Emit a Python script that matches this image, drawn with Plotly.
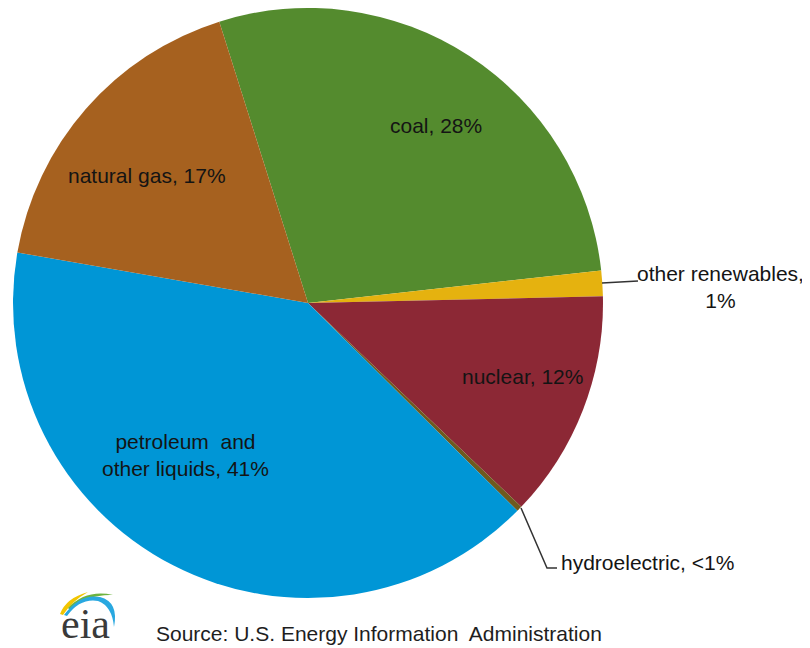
import plotly.graph_objects as go

# ---- data ----
categories = ["coal", "other renewables", "nuclear", "hydroelectric",
              "petroleum and other liquids", "natural gas"]
shares = [28.1, 1.4, 12.5, 0.3, 40.3, 17.4]
label_texts = ["coal, 28%", "other renewables,<br>1%", "nuclear, 12%",
               "hydroelectric, <1%", "petroleum&nbsp; and<br>other liquids, 41%",
               "natural gas, 17%"]
colors = ["#548B2E", "#E5B20F", "#8C2835", "#6E5A1F", "#0096D6", "#A6611F"]

# ---- layout helpers (window pixel positions -> paper) ----
OFF = 8  # default page body margin
W, H = 810 - OFF, 648 - OFF
def px(x):
    return (x - OFF) / W
def py(y):
    return 1 - (y - OFF) / H

# label anchor positions (window pixels), one per category
label_pos = [(436, 125), (720, 287), (522, 376), (647, 562), (185, 455), (147, 175)]

cx, cy, R = 308, 303, 295
fig = go.Figure(go.Pie(
    labels=categories,
    values=shares,
    sort=False,
    direction="clockwise",
    rotation=-17.5,
    marker=dict(colors=colors, line=dict(width=0)),
    textinfo="none",
    hoverinfo="label+percent",
    domain=dict(x=[px(cx - R), px(cx + R)], y=[py(cy + R), py(cy - R)]),
    showlegend=False,
))

annotations = []
for txt, (x, y) in zip(label_texts, label_pos):
    annotations.append(dict(
        x=px(x), y=py(y), xref="paper", yref="paper",
        text=txt, showarrow=False, xanchor="center", yanchor="middle",
        align="center",
        font=dict(family="Liberation Sans, Arial", size=21, color="#141414"),
    ))

annotations.append(dict(
    x=px(154), y=py(633), xref="paper", yref="paper",
    text="Source: U.S. Energy Information&nbsp; Administration",
    showarrow=False, xanchor="left", yanchor="middle",
    font=dict(family="Liberation Sans, Arial", size=21, color="#1e1e1e"),
))
annotations.append(dict(
    x=px(85), y=0, xref="paper", yref="paper",
    text="eia", showarrow=False, xanchor="center", yanchor="bottom",
    borderpad=0,
    font=dict(family="Liberation Serif, DejaVu Serif", size=42, color="#3a3a3a"),
))

LOGO_DY = -5
def path(points_cmds):
    out = []
    for cmd, pts in points_cmds:
        coords = " ".join(f"{px(a):.5f},{py(b + LOGO_DY):.5f}" for a, b in pts)
        out.append(f"{cmd} {coords}")
    return " ".join(out) + " Z"

def polyline(pts):
    return " ".join(("M " if i == 0 else "L ") + f"{px(a):.5f},{py(b):.5f}"
                    for i, (a, b) in enumerate(pts))

shapes = [
    # leader line: other renewables
    dict(type="path", xref="paper", yref="paper",
         path=polyline([(602, 283), (638, 281)]),
         line=dict(color="#333333", width=1.5)),
    # leader line: hydroelectric
    dict(type="path", xref="paper", yref="paper",
         path=polyline([(521, 508), (547, 568), (557, 568)]),
         line=dict(color="#333333", width=1.5)),
    # logo arcs
    dict(type="path", xref="paper", yref="paper", line=dict(width=0), fillcolor="#F2C500",
         path=path([("M", [(60, 619)]), ("Q", [(66, 603), (88, 597)]), ("Q", [(72, 606), (63, 620)])])),
    dict(type="path", xref="paper", yref="paper", line=dict(width=0), fillcolor="#6DB33F",
         path=path([("M", [(68, 613)]), ("Q", [(86, 594), (113, 600)]), ("Q", [(88, 599), (70, 615)])])),
    dict(type="path", xref="paper", yref="paper", line=dict(width=0), fillcolor="#29A8E0",
         path=path([("M", [(64, 620)]), ("Q", [(80, 598), (100, 602)]), ("Q", [(119, 607), (114, 632)]),
                    ("Q", [(112, 611), (98, 606)]), ("Q", [(80, 603), (67, 621)])])),
]

fig.update_layout(
    width=W, height=H,
    margin=dict(l=0, r=0, t=0, b=0),
    paper_bgcolor="white",
    plot_bgcolor="white",
    annotations=annotations,
    shapes=shapes,
)

fig.write_html("out.html")
